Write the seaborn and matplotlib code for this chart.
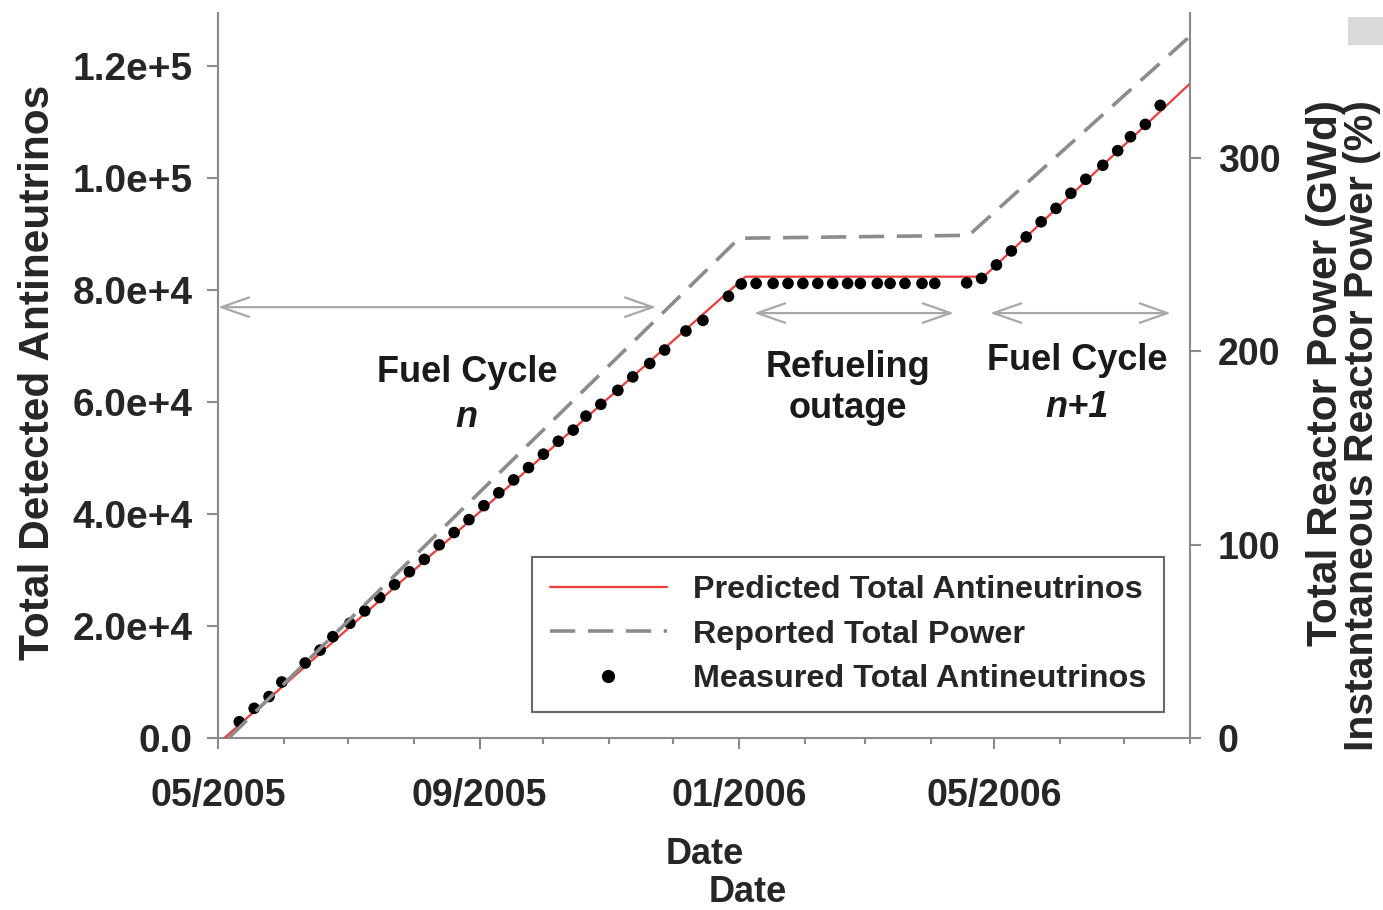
import matplotlib
matplotlib.use("Agg")
import matplotlib.pyplot as plt
import matplotlib.dates as mdates
from matplotlib.lines import Line2D
from matplotlib.patches import Rectangle
from matplotlib.ticker import FixedLocator, FixedFormatter
import numpy as np
import pandas as pd
import seaborn as sns

# ---- data -------------------------------------------------------------
meas_dates = [
    "2005-05-11", "2005-05-18", "2005-05-25", "2005-05-31", "2005-06-11", "2005-06-18",
    "2005-06-24", "2005-07-02", "2005-07-09", "2005-07-16", "2005-07-23", "2005-07-30",
    "2005-08-06", "2005-08-13", "2005-08-20", "2005-08-27", "2005-09-03", "2005-09-10",
    "2005-09-17", "2005-09-24", "2005-10-01", "2005-10-08", "2005-10-15", "2005-10-21",
    "2005-10-28", "2005-11-05", "2005-11-12", "2005-11-20", "2005-11-27", "2005-12-07",
    "2005-12-15", "2005-12-27", "2006-01-02", "2006-01-09", "2006-01-17", "2006-01-24",
    "2006-01-31", "2006-02-07", "2006-02-14", "2006-02-21", "2006-02-27", "2006-03-07",
    "2006-03-13", "2006-03-20", "2006-03-28", "2006-04-03", "2006-04-18", "2006-04-25",
    "2006-05-02", "2006-05-09", "2006-05-16", "2006-05-23", "2006-05-30", "2006-06-06",
    "2006-06-13", "2006-06-21", "2006-06-28", "2006-07-04", "2006-07-11", "2006-07-18",
]
meas_counts = [
    2900, 5300, 7400, 10000, 13400, 15700, 18100, 20500, 22700, 25100, 27400, 29700,
    31900, 34500, 36700, 39000, 41500, 43800, 46100, 48300, 50700, 53000, 55000, 57500,
    59600, 62100, 64500, 66900, 69300, 72700, 74600, 78900, 81100, 81200, 81200, 81200,
    81200, 81200, 81200, 81200, 81200, 81200, 81200, 81200, 81200, 81200, 81300, 82100,
    84500, 87000, 89500, 92200, 94600, 97300, 99800, 102300, 104900, 107400, 109600, 113000,
]

pred_dates = ["2005-05-04", "2006-01-04", "2006-04-26", "2006-08-01"]
pred_counts = [0, 82400, 82400, 116900]

power_dates = ["2005-05-06", "2006-01-01", "2006-04-19", "2006-08-01"]
power_gwd = [0, 258.5, 260, 363]

left_ticks = [0, 20000, 40000, 60000, 80000, 100000, 120000]
left_tick_labels = ["0.0", "2.0e+4", "4.0e+4", "6.0e+4", "8.0e+4", "1.0e+5", "1.2e+5"]
right_ticks = [0, 100, 200, 300]
right_tick_labels = ["0", "100", "200", "300"]

# phase arrows (start, end, height in counts) and their labels
phase_arrows = [
    ("2005-05-01", "2005-11-23", 76960),
    ("2006-01-08", "2006-04-12", 75900),
    ("2006-04-29", "2006-07-23", 75900),
]
phase_labels = [
    ("2005-08-26", 63570, "Fuel Cycle", "normal"),
    ("2005-08-26", 55540, "n", "italic"),
    ("2006-02-21", 64460, "Refueling", "normal"),
    ("2006-02-21", 57140, "outage", "normal"),
    ("2006-06-09", 65710, "Fuel Cycle", "normal"),
    ("2006-06-09", 57320, "n+1", "italic"),
]

meas = pd.DataFrame({"date": pd.to_datetime(meas_dates), "counts": meas_counts})
pred = pd.DataFrame({"date": pd.to_datetime(pred_dates), "counts": pred_counts})
power = pd.DataFrame({"date": pd.to_datetime(power_dates), "gwd": power_gwd})

# ---- style ------------------------------------------------------------
sns.set_style("ticks")
plt.rcParams["font.family"] = ["Liberation Sans", "DejaVu Sans"]
plt.rcParams["font.weight"] = "bold"

AXIS_GRAY = "#8a8a8a"
RED = "#ee3b3b"
DASH_GRAY = "#8c8c8c"
ARROW_GRAY = "#a8a8a8"

fig = plt.figure(figsize=(13.83, 9.10), dpi=100)
ax = fig.add_axes([218 / 1383, 172 / 910, 972 / 1383, 725 / 910])
ax2 = ax.twinx()

# ---- marks ------------------------------------------------------------
sns.lineplot(data=pred, x="date", y="counts", ax=ax, color=RED, lw=1.6, zorder=3)
sns.scatterplot(data=meas, x="date", y="counts", ax=ax, color="black", s=70,
                edgecolor="none", zorder=4)
sns.lineplot(data=power, x="date", y="gwd", ax=ax2, color=DASH_GRAY, lw=2.6,
             zorder=2)
ax2.lines[-1].set_linestyle((0, (7, 3.5)))

# ---- axes -------------------------------------------------------------
ax.set_xlim(pd.Timestamp("2005-05-01"), pd.Timestamp("2006-08-01"))
ax.set_ylim(0, 129500)
ax2.set_ylim(0, 375)

ax.xaxis.set_major_locator(mdates.MonthLocator(bymonth=[1, 5, 9]))
ax.xaxis.set_major_formatter(mdates.DateFormatter("%m/%Y"))
ax.xaxis.set_minor_locator(mdates.MonthLocator())
ax.yaxis.set_major_locator(FixedLocator(left_ticks))
ax.yaxis.set_major_formatter(FixedFormatter(left_tick_labels))
ax2.yaxis.set_major_locator(FixedLocator(right_ticks))
ax2.yaxis.set_major_formatter(FixedFormatter(right_tick_labels))

ax.set_xlabel("")
ax.set_ylabel("")
ax2.set_ylabel("")

for a in (ax, ax2):
    a.spines["top"].set_visible(False)
    for s in a.spines.values():
        s.set_color(AXIS_GRAY)
        s.set_linewidth(1.5)
ax.spines["right"].set_visible(False)
ax2.spines["left"].set_visible(False)
ax2.spines["bottom"].set_visible(False)

ax.tick_params(axis="x", which="major", length=8, width=1.5, color=AXIS_GRAY,
               pad=21, labelsize=27)
ax.tick_params(axis="x", which="minor", length=4.5, width=1.5, color=AXIS_GRAY)
ax.tick_params(axis="y", which="major", length=8, width=1.5, color=AXIS_GRAY,
               pad=10, labelsize=28)
ax2.tick_params(axis="y", which="major", length=8, width=1.5, color=AXIS_GRAY,
                pad=12, labelsize=27)

# ---- phase annotations ------------------------------------------------
for start, end, yv in phase_arrows:
    ax.annotate("", xy=(pd.Timestamp(end), yv), xytext=(pd.Timestamp(start), yv),
                arrowprops=dict(arrowstyle="<->,head_length=2.0,head_width=0.7",
                                color=ARROW_GRAY, lw=1.6, shrinkA=0, shrinkB=0),
                annotation_clip=False)
for d, yv, txt, st in phase_labels:
    ax.text(pd.Timestamp(d), yv, txt, ha="center", va="baseline", fontsize=26,
            fontweight="bold", style=st, color="#1a1a1a")

# ---- legend -----------------------------------------------------------
handles = [
    Line2D([], [], color=RED, lw=1.6),
    Line2D([], [], color=DASH_GRAY, lw=2.6, linestyle=(0, (7, 3.5))),
    Line2D([], [], color="black", marker="o", markersize=8.5, linestyle="none"),
]
labels = ["Predicted Total Antineutrinos", "Reported Total Power",
          "Measured Total Antineutrinos"]
leg = ax2.legend(handles, labels, loc="lower right", bbox_to_anchor=(0.973, 0.036),
                 borderaxespad=0, fontsize=23.3, frameon=True, fancybox=False,
                 handlelength=3.6, handletextpad=0.8, labelspacing=0.45,
                 borderpad=0.55)
leg.get_frame().set_edgecolor("#444444")
leg.get_frame().set_linewidth(1.5)

# ---- axis titles ------------------------------------------------------
fig.text(38 / 1383, 1 - 372 / 910, "Total Detected Antineutrinos", rotation=90,
         ha="center", va="center", fontsize=30.5, fontweight="bold")
fig.text(1326 / 1383, 1 - 100 / 910, "Total Reactor Power (GWd)", rotation=90,
         ha="center", va="top", fontsize=30.5, fontweight="bold")
fig.text(1362 / 1383, 1 - 100 / 910, "Instantaneous Reactor Power (%)", rotation=90,
         ha="center", va="top", fontsize=29.5, fontweight="bold")
fig.text(705 / 1383, 1 - 855 / 910, "Date", ha="center", va="center", fontsize=26,
         fontweight="bold")
fig.text(748 / 1383, 1 - 893 / 910, "Date", ha="center", va="center", fontsize=26,
         fontweight="bold")

fig.patches.append(Rectangle((1348 / 1383, 1 - 45 / 910), 40 / 1383, 28 / 910,
                             transform=fig.transFigure, facecolor="#d9d9d9",
                             edgecolor="none"))

fig.savefig("out.png", dpi=100)
